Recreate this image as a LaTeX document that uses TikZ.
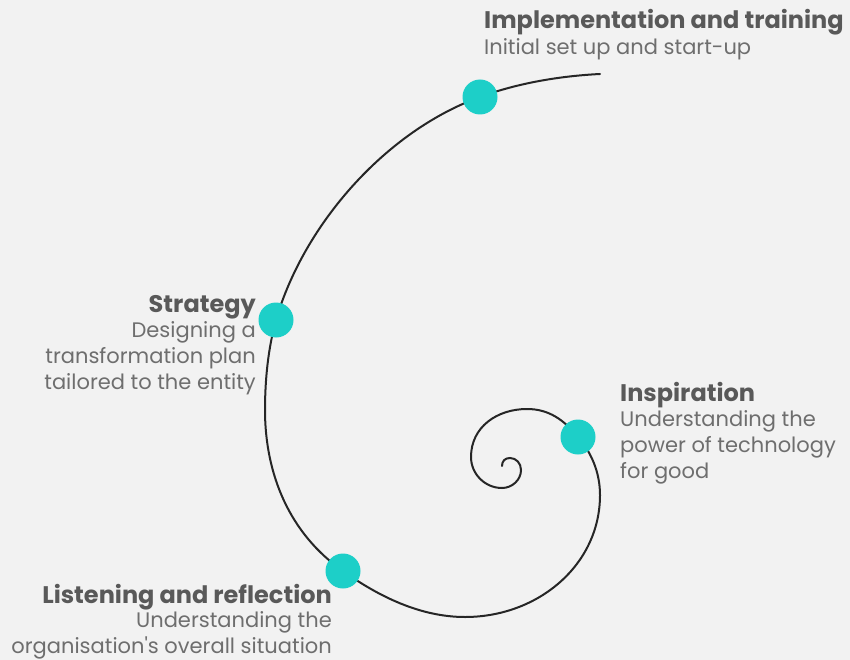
\documentclass[tikz,border=0pt]{standalone}
\usepackage{fontspec}
\setmainfont{Poppins}[Ligatures=TeXOff]
\usepackage{xcolor}
\usetikzlibrary{positioning}

\definecolor{paper}{HTML}{F2F2F2}
\definecolor{spotcol}{HTML}{1DCFC8}
\definecolor{titlegray}{HTML}{595959}
\definecolor{bodygray}{HTML}{6E6E6E}

\begin{document}
\begin{tikzpicture}[x=1pt,y=-1pt,
    spot/.style={circle,fill=spotcol,minimum size=35pt,inner sep=0pt},
    title/.style={inner sep=0pt,text=titlegray,font=\bfseries\fontsize{24}{28}\selectfont},
    blurb/.style={inner sep=0pt,text=bodygray,font=\fontsize{21}{25.7}\selectfont}]
    \fill[paper] (0,0) rectangle (850,660);
    \useasboundingbox (0,0) rectangle (850,660);
    % spiral
    \coordinate (p-impl) at (480,97);
    \coordinate (p-strat) at (276,320);
    \coordinate (p-listen) at (343,571);
    \coordinate (p-insp) at (578,437);
    \draw[line width=2pt,black!85,line cap=round]
        (600,74) .. controls (560,76) and (518,83) .. (p-impl)
        .. controls (386,131) and (304,224) .. (p-strat)
        .. controls (268,349) and (265,380) .. (265,410)
        .. controls (265,475) and (290,534) .. (p-listen)
        .. controls (378,596) and (420,617) .. (465,617)
        .. controls (538,617) and (600,565) .. (600,495)
        .. controls (600,472) and (591,452) .. (p-insp)
        .. controls (564,420) and (549,409) .. (527,409)
        .. controls (497,409) and (471,427) .. (471,457)
        .. controls (471,474) and (485,488) .. (502,488)
        .. controls (512,488) and (521,480) .. (521,470)
        .. controls (521,463) and (516,458) .. (510,458)
        .. controls (505,458) and (502,461) .. (502,466);
    % dots
    \node[spot] (impl) at (p-impl) {};
    \node[spot] (strat) at (p-strat) {};
    \node[spot] (listen) at (p-listen) {};
    \node[spot] (insp) at (p-insp) {};
    % texts (multi-line blocks sit on their last baseline)
    \node[title,anchor=base west] (impl-title) at (484,29) {Implementation and training};
    \node[blurb,anchor=base west,align=left] (impl-text) at (484,55) {Initial set up and start-up};
    \node[title,anchor=base east] (strat-title) at (256,312) {Strategy};
    \node[blurb,anchor=base east,align=right] (strat-text) at (256,389) {Designing a\\transformation plan\\tailored to the entity};
    \node[title,anchor=base west] (insp-title) at (620,401) {Inspiration};
    \node[blurb,anchor=base west,align=left] (insp-text) at (620,478) {Understanding the\\power of technology\\for good};
    \node[title,anchor=base east] (listen-title) at (332,603) {Listening and reflection};
    \node[blurb,anchor=base east,align=right] (listen-text) at (332,653) {Understanding the\\organisation's overall situation};
\end{tikzpicture}
\end{document}
